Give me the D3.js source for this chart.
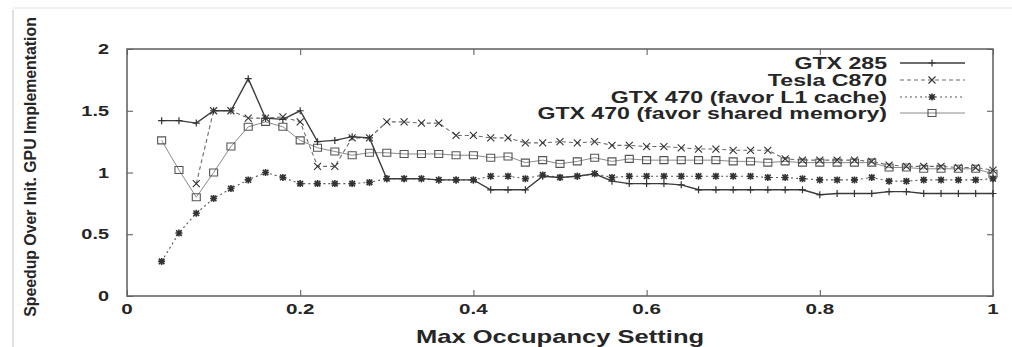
<!DOCTYPE html>
<html><head><meta charset="utf-8">
<script src="https://cdn.jsdelivr.net/npm/d3@7"></script>
<style>html,body{margin:0;padding:0;background:#fff;}svg{display:block;}</style>
</head><body>
<svg id="chart" width="1012" height="347"></svg>
<script>
const occupancy = [0.04,0.06,0.08,0.10,0.12,0.14,0.16,0.18,0.20,0.22,0.24,0.26,0.28,0.30,0.32,0.34,0.36,0.38,0.40,0.42,0.44,0.46,0.48,0.50,0.52,0.54,0.56,0.58,0.60,0.62,0.64,0.66,0.68,0.70,0.72,0.74,0.76,0.78,0.80,0.82,0.84,0.86,0.88,0.90,0.92,0.94,0.96,0.98,1.00];
const gtx285 = [1.42,1.42,1.40,1.50,1.50,1.76,1.44,1.43,1.50,1.25, 1.26,1.29,1.28,0.95,0.95,0.95,0.94,0.94,0.94,0.86, 0.86,0.86,0.97,0.96,0.97,0.99,0.93,0.91,0.91,0.91, 0.90,0.86,0.86,0.86,0.86,0.86,0.86,0.86,0.82,0.83, 0.83,0.83,0.845,0.845,0.83,0.83,0.83,0.83,0.83];
const teslaC870 = [null,null,0.91,1.50,1.50,1.44,1.44,1.45,1.41,1.05, 1.05,1.28,1.28,1.41,1.41,1.40,1.40,1.30,1.30,1.28, 1.28,1.24,1.24,1.25,1.24,1.25,1.22,1.22,1.21,1.21, 1.20,1.19,1.19,1.18,1.18,1.18,1.11,1.10,1.10,1.10, 1.10,1.09,1.06,1.05,1.05,1.05,1.04,1.04,1.02];
const gtx470L1 = [0.28,0.51,0.67,0.79,0.87,0.94,1.00,0.96,0.91,0.91, 0.91,0.91,0.92,0.95,0.95,0.95,0.94,0.94,0.94,0.97, 0.97,0.95,0.98,0.96,0.97,0.99,0.96,0.97,0.97,0.97, 0.97,0.97,0.97,0.97,0.97,0.96,0.96,0.95,0.94,0.94, 0.94,0.96,0.93,0.93,0.94,0.94,0.94,0.94,0.95];
const gtx470Shared = [1.26,1.02,0.80,1.00,1.21,1.37,1.41,1.37,1.26,1.20, 1.17,1.14,1.16,1.16,1.15,1.15,1.15,1.14,1.14,1.12, 1.13,1.08,1.10,1.07,1.09,1.12,1.09,1.11,1.10,1.10, 1.10,1.10,1.10,1.09,1.09,1.08,1.09,1.08,1.08,1.08, 1.08,1.08,1.04,1.04,1.03,1.03,1.03,1.03,0.99];
const seriesNames = ["GTX 285","Tesla C870","GTX 470 (favor L1 cache)","GTX 470 (favor shared memory)"];
const xTicks = [0,0.2,0.4,0.6,0.8,1];
const yTicks = [0,0.5,1,1.5,2];
const xTitle = "Max Occupancy Setting";
const yTitle = "Speedup Over Init. GPU Implementation";

const svg = d3.select("#chart");
const L = 127, R = 993, T = 49, B = 296;
const x = d3.scaleLinear().domain([0,1]).range([L,R]);
const y = d3.scaleLinear().domain([0,2]).range([B,T]);
const SX = 1.42;
const txtCol = "#262626";
const FONT = "Liberation Sans, Arial, sans-serif";

// faint page edge
svg.append("line").attr("x1",13).attr("x2",13).attr("y1",10).attr("y2",347).attr("stroke","#d6d6d6").attr("stroke-width",1.5);
svg.append("line").attr("x1",13).attr("x2",1012).attr("y1",8).attr("y2",8).attr("stroke","#e4e4e4").attr("stroke-width",1);

// axes with inward ticks
const gx = svg.append("g").attr("transform",`translate(0,${B})`)
  .call(d3.axisBottom(x).tickValues(xTicks).tickSize(-6).tickFormat(""));
const gxt = svg.append("g").attr("transform",`translate(0,${T})`)
  .call(d3.axisTop(x).tickValues(xTicks).tickSize(-6).tickFormat(""));
const gy = svg.append("g").attr("transform",`translate(${L},0)`)
  .call(d3.axisLeft(y).tickValues(yTicks).tickSize(-6).tickFormat(""));
const gyr = svg.append("g").attr("transform",`translate(${R},0)`)
  .call(d3.axisRight(y).tickValues(yTicks).tickSize(-6).tickFormat(""));
[gx,gxt,gy,gyr].forEach(g=>{g.select(".domain").remove(); g.selectAll("line").attr("stroke","#555").attr("stroke-width",1);});
svg.append("rect").attr("x",L).attr("y",T).attr("width",R-L).attr("height",B-T)
  .attr("fill","none").attr("stroke","#666").attr("stroke-width",1.6);

// tick labels
yTicks.forEach(v=>{
  svg.append("text").attr("transform",`translate(109,${y(v)+5}) scale(${SX},1)`)
    .attr("text-anchor","end").attr("font-family",FONT)
    .attr("font-weight","bold").attr("font-size",14).attr("fill",txtCol).text(d3.format("")(v));
});
xTicks.forEach(v=>{
  svg.append("text").attr("transform",`translate(${x(v)},${314}) scale(${SX},1)`)
    .attr("text-anchor","middle").attr("font-family",FONT)
    .attr("font-weight","bold").attr("font-size",14.5).attr("fill",txtCol).text(d3.format("")(v));
});
// axis titles
svg.append("text").attr("transform",`translate(560,343) scale(${SX},1)`)
  .attr("text-anchor","middle").attr("font-family",FONT)
  .attr("font-weight","bold").attr("font-size",18).attr("fill",txtCol).text(xTitle);
const yt = svg.append("text").attr("text-anchor","middle").attr("font-family",FONT)
  .attr("font-weight","bold").attr("font-size",17).attr("fill",txtCol).text(yTitle);
const ytLen = yt.node().getComputedTextLength();
yt.attr("transform",`translate(36,167) rotate(-90) scale(${300/ytLen},1)`);

// markers
const s = 3.5;
const markerPaths = {
  plus: `M${-s},0H${s}M0,${-s}V${s}`,
  cross: `M${-s},${-s}L${s},${s}M${-s},${s}L${s},${-s}`,
  star: `M${-s},0H${s}M0,${-s}V${s}M${-s*0.8},${-s*0.8}L${s*0.8},${s*0.8}M${-s*0.8},${s*0.8}L${s*0.8},${-s*0.8}`,
  square: `M-4,-3.5H4V3.5H-4Z`
};
const series = [
  {name:seriesNames[0], values:gtx285, color:"#3c3c3c", width:1.4, dash:null, marker:"plus", mw:1.2},
  {name:seriesNames[1], values:teslaC870, color:"#6a6a6a", width:1.1, dash:"4,3", marker:"cross", mw:1.1},
  {name:seriesNames[2], values:gtx470L1, color:"#5a5a5a", width:1.1, dash:"2,3", marker:"star", mw:1.6},
  {name:seriesNames[3], values:gtx470Shared, color:"#8a8a8a", width:1.0, dash:null, marker:"square", mw:1.1}
];
const line = d3.line().defined(d=>d[1]!=null).x(d=>x(d[0])).y(d=>y(d[1]));
series.slice().reverse().forEach(sr=>{
  const pts = occupancy.map((o,i)=>[o,sr.values[i]]);
  svg.append("path").datum(pts).attr("d",line).attr("fill","none")
    .attr("stroke",sr.color).attr("stroke-width",sr.width).attr("stroke-dasharray",sr.dash);
  svg.append("g").selectAll("path").data(pts.filter(d=>d[1]!=null)).join("path")
    .attr("transform",d=>`translate(${x(d[0])},${y(d[1])})`)
    .attr("d",markerPaths[sr.marker]).attr("fill","none")
    .attr("stroke",sr.marker==="square"?"#555":"#333").attr("stroke-width",sr.mw);
});

// legend
const legY = [63,80,97,113];
series.forEach((sr,i)=>{
  svg.append("text").attr("transform",`translate(887,${legY[i]+5.5}) scale(${SX},1)`)
    .attr("text-anchor","end").attr("font-family",FONT)
    .attr("font-weight","bold").attr("font-size",16.3).attr("fill",txtCol).text(sr.name);
  svg.append("line").attr("x1",900).attr("x2",965).attr("y1",legY[i]).attr("y2",legY[i])
    .attr("stroke",sr.color).attr("stroke-width",sr.width).attr("stroke-dasharray",sr.dash);
  svg.append("path").attr("transform",`translate(932,${legY[i]})`).attr("d",markerPaths[sr.marker])
    .attr("fill","none").attr("stroke",sr.marker==="square"?"#555":"#333").attr("stroke-width",sr.mw);
});
</script>
</body></html>
